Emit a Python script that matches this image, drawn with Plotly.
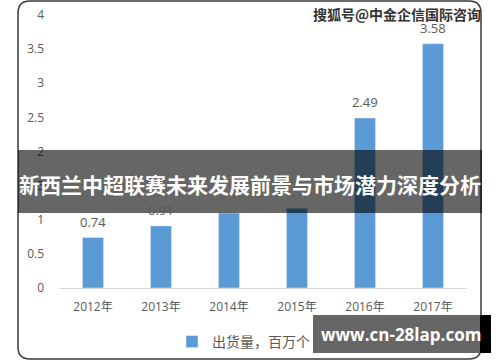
import plotly.graph_objects as go

years = ["2012年", "2013年", "2014年", "2015年", "2016年", "2017年"]
shipments = [0.74, 0.91, 1.1, 1.17, 2.49, 3.58]
series_name = "出货量，百万个"
y_ticks = [0, 0.5, 1, 1.5, 2, 2.5, 3, 3.5, 4]
title_text = "新西兰中超联赛未来发展前景与市场潜力深度分析"
watermark_top = "搜狐号@中金企信国际咨询"
watermark_bottom = "www.cn-28lap.com"

W, H = 500, 362
L, R, T, B = 59, 467, 15, 288  # plot area in pixels


def px(x):
    return (x - L) / (R - L)


def py(y):
    return (B - y) / (B - T)


FONT = "Open Sans, Noto Sans CJK SC, sans-serif"

fig = go.Figure()
fig.add_trace(go.Bar(
    x=years, y=shipments, name=series_name,
    marker=dict(color="#5b9bd5"),
    width=0.31,
))

# rounded border
x0, x1, y0, y1, r = 18, 481, 1, 359, 12
path = (
    f"M {px(x0 + r)},{py(y0)} L {px(x1 - r)},{py(y0)} "
    f"Q {px(x1)},{py(y0)} {px(x1)},{py(y0 + r)} "
    f"L {px(x1)},{py(y1 - r)} Q {px(x1)},{py(y1)} {px(x1 - r)},{py(y1)} "
    f"L {px(x0 + r)},{py(y1)} Q {px(x0)},{py(y1)} {px(x0)},{py(y1 - r)} "
    f"L {px(x0)},{py(y0 + r)} Q {px(x0)},{py(y0)} {px(x0 + r)},{py(y0)} Z"
)
shapes = [
    dict(type="path", xref="paper", yref="paper", path=path,
         line=dict(color="#3a3a3a", width=1.5), layer="below"),
    # banner
    dict(type="rect", xref="paper", yref="paper",
         x0=px(18), x1=px(482), y0=py(150), y1=py(213),
         fillcolor="rgba(0,0,0,0.6)", line=dict(width=0), layer="above"),
    # bottom-right watermark box
    dict(type="rect", xref="paper", yref="paper",
         x0=px(313), x1=px(491), y0=py(315), y1=py(353),
         fillcolor="#000000", line=dict(width=0), layer="above"),
    dict(type="rect", xref="paper", yref="paper",
         x0=px(313), x1=px(480), y0=py(315), y1=py(353),
         fillcolor="#666666", line=dict(width=0), layer="above"),
]

# value labels
annotations = [
    dict(text=f"{v:g}", x=c, y=v, xref="x", yref="y", showarrow=False,
         yanchor="bottom", yshift=5,
         font=dict(color="#595959", size=13, family=FONT))
    for c, v in zip(years, shipments)
]

annotations += [
    dict(text=f"<b>{title_text}</b>", xref="paper", yref="paper",
         x=px(250), y=py(184), showarrow=False,
         font=dict(color="white", size=21, family="Noto Sans CJK SC"),
         xanchor="center", yanchor="middle"),
    dict(text=f"<b>{watermark_top}</b>", xref="paper", yref="paper",
         x=px(483), y=py(14), showarrow=False,
         font=dict(color="#333333", size=14, family="Noto Sans CJK SC"),
         xanchor="right", yanchor="middle"),
    dict(text=f"<b>{watermark_bottom}</b>", xref="paper", yref="paper",
         x=px(401), y=py(334), showarrow=False,
         font=dict(color="white", size=17, family="Open Sans, sans-serif"),
         xanchor="center", yanchor="middle"),
]

fig.update_layout(
    width=W, height=H,
    margin=dict(l=L, r=W - R, t=T, b=H - B, autoexpand=False),
    paper_bgcolor="white", plot_bgcolor="white",
    font=dict(family=FONT, color="#595959", size=12),
    showlegend=True,
    legend=dict(orientation="h", x=px(172), y=py(326), xanchor="left", yanchor="top",
                font=dict(size=14, color="#595959", family=FONT),
                bgcolor="rgba(0,0,0,0)", itemwidth=30),
    xaxis=dict(showline=True, linecolor="#d9d9d9", linewidth=1, ticks="",
               automargin=False, ticklabelstandoff=8,
               tickfont=dict(size=12, color="#595959"), fixedrange=True),
    yaxis=dict(range=[0, 4], tickvals=y_ticks, showgrid=False, zeroline=False,
               showline=False, ticks="", ticklabelstandoff=14, automargin=False,
               tickfont=dict(size=12, color="#595959")),
    shapes=shapes,
    annotations=annotations,
    bargap=0.69,
)

fig.write_html("out.html", config={"displayModeBar": False},
               post_script="document.body.style.margin='0';document.body.style.overflow='hidden';")
